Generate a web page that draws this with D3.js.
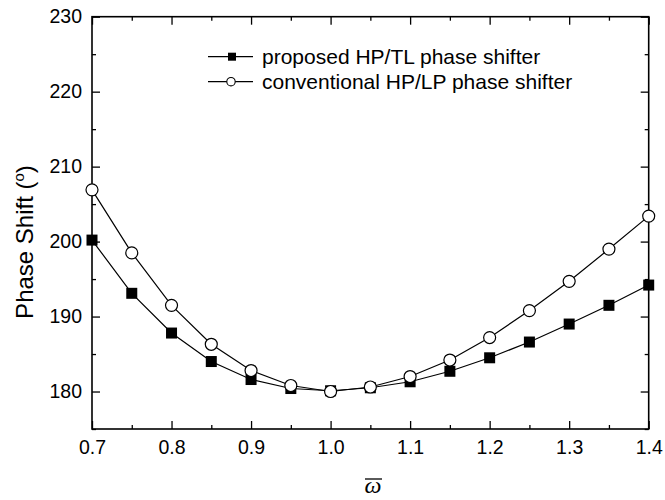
<!DOCTYPE html>
<html>
<head>
<meta charset="utf-8">
<script src="https://cdn.jsdelivr.net/npm/d3@7"></script>
<style>
  html, body { margin: 0; padding: 0; background: #fff; }
  svg { display: block; font-family: Arial, "Liberation Sans", sans-serif; }
</style>
</head>
<body>
<svg id="chart" width="665" height="500"></svg>
<script>
const omega = [0.70, 0.75, 0.80, 0.85, 0.90, 0.95, 1.00, 1.05, 1.10, 1.15, 1.20, 1.25, 1.30, 1.35, 1.40];
const proposed = [200.2, 193.1, 187.8, 184.0, 181.6, 180.4, 180.1, 180.5, 181.3, 182.7, 184.5, 186.6, 189.0, 191.5, 194.2];
const conventional = [206.9, 198.5, 191.5, 186.3, 182.8, 180.8, 180.0, 180.6, 182.0, 184.2, 187.2, 190.8, 194.7, 199.0, 203.4];
const seriesNames = ["proposed HP/TL phase shifter", "conventional HP/LP phase shifter"];
const xTicks = [0.7, 0.8, 0.9, 1.0, 1.1, 1.2, 1.3, 1.4];
const xMinorTicks = [0.75, 0.85, 0.95, 1.05, 1.15, 1.25, 1.35];
const yTicks = [180, 190, 200, 210, 220, 230];
const yMinorTicks = [175, 185, 195, 205, 215, 225];

const svg = d3.select("#chart");
const L = 92, R = 648.7, T = 16.7, B = 429;
const x = d3.scaleLinear().domain([0.7, 1.4]).range([L, R]);
const y = d3.scaleLinear().domain([175, 230]).range([B, T]);
const FONT = "Arial, 'Liberation Sans', sans-serif";

const axisStyle = g => {
  g.select(".domain").remove();
  g.selectAll("line").attr("stroke", "#000").attr("stroke-width", 1.3);
};

svg.append("g").attr("transform", `translate(0,${B})`)
  .call(d3.axisBottom(x).tickValues(xTicks).tickSize(-8).tickFormat(d3.format(".1f")).tickPadding(11))
  .call(axisStyle)
  .call(g => g.selectAll("text").attr("font-size", 19.5).attr("fill", "#000").attr("font-family", FONT));
svg.append("g").attr("transform", `translate(0,${B})`)
  .call(d3.axisBottom(x).tickValues(xMinorTicks).tickSize(-4).tickFormat(""))
  .call(axisStyle);
svg.append("g").attr("transform", `translate(0,${T})`)
  .call(d3.axisTop(x).tickValues(xTicks).tickSize(-8).tickFormat(""))
  .call(axisStyle);
svg.append("g").attr("transform", `translate(0,${T})`)
  .call(d3.axisTop(x).tickValues(xMinorTicks).tickSize(-4).tickFormat(""))
  .call(axisStyle);

svg.append("g").attr("transform", `translate(${L},0)`)
  .call(d3.axisLeft(y).tickValues(yTicks).tickSize(-8).tickFormat(d3.format("d")).tickPadding(10))
  .call(axisStyle)
  .call(g => g.selectAll("text").attr("font-size", 19.5).attr("fill", "#000").attr("font-family", FONT));
svg.append("g").attr("transform", `translate(${L},0)`)
  .call(d3.axisLeft(y).tickValues(yMinorTicks).tickSize(-4).tickFormat(""))
  .call(axisStyle);
svg.append("g").attr("transform", `translate(${R},0)`)
  .call(d3.axisRight(y).tickValues(yTicks).tickSize(-8).tickFormat(""))
  .call(axisStyle);
svg.append("g").attr("transform", `translate(${R},0)`)
  .call(d3.axisRight(y).tickValues(yMinorTicks).tickSize(-4).tickFormat(""))
  .call(axisStyle);

svg.append("rect").attr("x", L).attr("y", T).attr("width", R - L).attr("height", B - T)
  .attr("fill", "none").attr("stroke", "#000").attr("stroke-width", 1.6);

const line = d3.line().x(d => x(d[0])).y(d => y(d[1]));
const dProp = omega.map((w, i) => [w, proposed[i]]);
const dConv = omega.map((w, i) => [w, conventional[i]]);

svg.append("path").datum(dProp).attr("d", line).attr("fill", "none").attr("stroke", "#000").attr("stroke-width", 1.2);
svg.append("path").datum(dConv).attr("d", line).attr("fill", "none").attr("stroke", "#000").attr("stroke-width", 1.2);

const sq = 11;
svg.append("g").selectAll("rect").data(dProp).join("rect")
  .attr("x", d => x(d[0]) - sq / 2).attr("y", d => y(d[1]) - sq / 2)
  .attr("width", sq).attr("height", sq).attr("fill", "#000");
svg.append("g").selectAll("circle").data(dConv).join("circle")
  .attr("cx", d => x(d[0])).attr("cy", d => y(d[1])).attr("r", 6)
  .attr("fill", "#fff").attr("stroke", "#000").attr("stroke-width", 1.2);

// Legend
const lg = svg.append("g");
const rows = [56.7, 81.7];
rows.forEach((ry, i) => {
  lg.append("line").attr("x1", 208).attr("x2", 253).attr("y1", ry).attr("y2", ry)
    .attr("stroke", "#000").attr("stroke-width", 1.2);
  if (i === 0) {
    lg.append("rect").attr("x", 232 - 4).attr("y", ry - 4).attr("width", 8).attr("height", 8).attr("fill", "#000");
  } else {
    lg.append("circle").attr("cx", 231).attr("cy", ry).attr("r", 4.2)
      .attr("fill", "#fff").attr("stroke", "#000").attr("stroke-width", 1.1);
  }
  lg.append("text").attr("x", 262).attr("y", ry + 7.5).attr("font-size", 21)
    .attr("fill", "#000").text(seriesNames[i]);
});

// Y axis title
const yt = svg.append("text")
  .attr("transform", `translate(33,${242}) rotate(-90)`)
  .attr("text-anchor", "middle").attr("font-size", 24).attr("fill", "#000");
yt.append("tspan").text("Phase Shift (");
yt.append("tspan").attr("font-size", 15).attr("dy", -9).text("o");
yt.append("tspan").attr("dy", 9).text(")");

// X axis title: omega with overline
svg.append("text").attr("x", 373).attr("y", 493).attr("text-anchor", "middle")
  .attr("font-family", "'Liberation Serif', 'DejaVu Serif', serif").attr("font-style", "italic")
  .attr("font-size", 24).attr("fill", "#000").text("ω");
svg.append("line").attr("x1", 365).attr("x2", 382).attr("y1", 479).attr("y2", 479)
  .attr("stroke", "#000").attr("stroke-width", 1.3);
</script>
</body>
</html>
